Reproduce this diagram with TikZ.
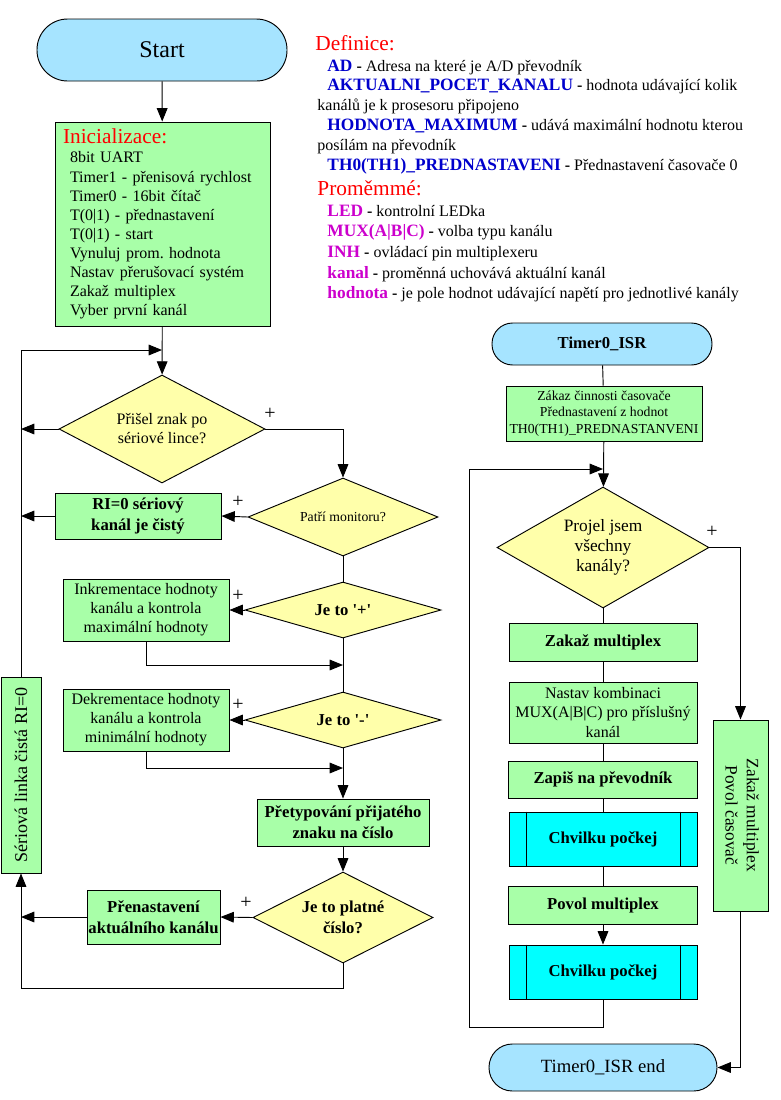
\documentclass[tikz,border=0pt]{standalone}
\usepackage{fontspec}
\setmainfont{Liberation Serif}
\newfontfamily\quotefont{Liberation Serif}
\usepackage{tikz, xcolor}
\usetikzlibrary{shapes.geometric,arrows.meta}

\definecolor{termblue}{RGB}{166,228,255}
\definecolor{boxgreen}{RGB}{168,255,168}
\definecolor{diayellow}{RGB}{255,255,170}
\definecolor{waitcyan}{RGB}{0,255,255}
\definecolor{defblue}{RGB}{0,0,204}
\definecolor{varmag}{RGB}{204,0,204}

\newcommand{\fntreg}{\fontsize{12}{14.3}\selectfont}
\newcommand{\fntbig}{\fontsize{12.5}{15.5}\selectfont\bfseries}
\newcommand{\fntsmall}{\fontsize{10.3}{12.5}\selectfont}
\newcommand{\keyblue}[1]{{\fontsize{13}{15}\selectfont\bfseries\color{defblue}#1} \textbf{-}}
\newcommand{\keymag}[1]{{\fontsize{13}{15}\selectfont\bfseries\color{varmag}#1} \textbf{-}}

\begin{document}
\frenchspacing
\begin{tikzpicture}[x=0.75pt, y=-0.75pt, line width=0.7pt, >={Triangle[length=10pt,width=8pt]}]
\tikzstyle{boxt}=[rectangle, draw, fill=termblue, align=center]
\tikzstyle{boxg}=[rectangle, draw, fill=boxgreen, align=center, inner sep=1pt]
\tikzstyle{boxd}=[diamond, draw, fill=diayellow, align=center, inner sep=0pt]
\tikzstyle{boxc}=[rectangle, draw, fill=waitcyan, align=center]
\tikzstyle{deftext}=[anchor=base west, inner sep=0pt, font=\fontsize{12}{14}\selectfont]
\tikzstyle{signp}=[inner sep=0pt, font=\fontsize{15}{17}\selectfont]
\tikzstyle{drawstyle}=[->]

\useasboundingbox (0,0) rectangle (781,1100);

\node[boxt, minimum width=187.5pt, minimum height=46.5pt, rounded corners=23pt, font=\fontsize{18}{20}\selectfont] (L0) at (162,50) {Start};
\node[boxg, minimum width=161.25pt, minimum height=153pt, align=left, text width=138.75pt, inner xsep=11.25pt, font=\fntreg] (L1) at (162.5,224) {\hspace*{-5.25pt}{\fontsize{16}{18}\selectfont\color{red}Inicializace:}\\8bit UART\\Timer1 - přenisová rychlost\\Timer0 - 16bit čítač\\T(0|1) - přednastavení\\T(0|1) - start\\Vynuluj prom. hodnota\\Nastav přerušovací systém\\Zakaž multiplex\\Vyber první kanál};
\draw[drawstyle] (L0) -- (L1);

\node[boxd, minimum width=154.5pt, minimum height=81pt, aspect=1.9, font=\fntreg] (L2) at (162,429) {Přišel znak po\\sériové lince?};
\draw[drawstyle] (L1) -- (L2);
\node[boxd, minimum width=142.5pt, minimum height=58.5pt, aspect=2.4, font=\fntsmall] (L3) at (343,517) {Patří monitoru?};
\draw[drawstyle] (L2.east) -| (L3.north);
\node[signp] (P1) at (270,414) {+};
\node[boxg, minimum width=124.5pt, minimum height=34.5pt, font=\fntbig] (L4) at (138,516) {RI=0 sériový\\kanál je čistý};
\draw[drawstyle] (L3.west) -- (L4.east);
\node[signp] (P2) at (238,502) {+};
\node[boxd, minimum width=147pt, minimum height=42pt, aspect=3.5, font=\fntbig] (L5) at (343,610) {Je to {\quotefont'}+{\quotefont'}};
\draw (L3) -- (L5);
\node[boxg, minimum width=124.5pt, minimum height=46.5pt, font=\fntreg] (L6) at (146,610) {Inkrementace hodnoty\\kanálu a kontrola\\maximální hodnoty};
\draw[drawstyle] (L5.west) -- (L6.east);
\node[signp] (P3) at (238,596) {+};
\coordinate (J1) at (343,665);
\draw[drawstyle] (L6.south) |- (J1);
\node[boxd, minimum width=147pt, minimum height=42pt, aspect=3.5, font=\fntbig] (L7) at (343,720) {Je to {\quotefont'}-{\quotefont'}};
\draw (L5) -- (L7);
\node[boxg, minimum width=124.5pt, minimum height=46.5pt, font=\fntreg] (L8) at (146,720) {Dekrementace hodnoty\\kanálu a kontrola\\minimální hodnoty};
\draw[drawstyle] (L7.west) -- (L8.east);
\node[signp] (P4) at (238,705) {+};
\coordinate (J2) at (343,768);
\draw[drawstyle] (L8.south) |- (J2);
\node[boxg, minimum width=129pt, minimum height=35.25pt, font=\fntbig] (L9) at (343,822.5) {Přetypování přijatého\\znaku na číslo};
\draw[drawstyle] (L7) -- (L9);
\node[boxd, minimum width=135pt, minimum height=68.25pt, aspect=2, font=\fntbig] (L10) at (343,917.5) {Je to platné\\číslo?};
\draw[drawstyle] (L9) -- (L10);
\node[boxg, minimum width=99.75pt, minimum height=40.5pt, font=\fntbig] (L11) at (153.5,917) {Přenastavení\\aktuálního kanálu};
\draw[drawstyle] (L10.west) -- (L11.east);
\node[signp] (P5) at (246,903) {+};
\node[boxg, minimum width=30pt, minimum height=147pt, font=\fontsize{13.5}{16}\selectfont] (L12) at (21,775) {\rotatebox{90}{Sériová linka čistá RI=0}};
\draw[drawstyle] (L2.west) -- (L2.west -| L12);
\draw[drawstyle] (L4.west) -- (L4.west -| L12);
\draw[drawstyle] (L11.west) -- (L11.west -| L12);
\coordinate (J3) at (343,988);
\draw[drawstyle] (L10.south) -- (J3) -| (L12.south);
\coordinate (J4) at (162,350);
\draw[drawstyle] (L12.north) |- (J4);

\node[font=\fontsize{16}{18}\selectfont, text=red, anchor=base west, inner sep=0pt] (D0) at (315,50) {Definice:};
\node[deftext] (D1) at (327,71) {\keyblue{AD} Adresa na které je A/D převodník};
\node[deftext] (D2) at (327,90) {\keyblue{AKTUALNI\_POCET\_KANALU} hodnota udávající kolik};
\node[deftext] (D3) at (317,110) {kanálů je k prosesoru připojeno};
\node[deftext] (D4) at (327,130) {\keyblue{HODNOTA\_MAXIMUM} udává maximální hodnotu kterou};
\node[deftext] (D5) at (317,150) {posílám na převodník};
\node[deftext] (D6) at (327,170) {\keyblue{TH0(TH1)\_PREDNASTAVENI} Přednastavení časovače 0};
\node[font=\fontsize{16}{18}\selectfont, text=red, anchor=base west, inner sep=0pt] (V0) at (317,195) {Proměmmé:};
\node[deftext] (V1) at (327,216) {\keymag{LED} kontrolní LEDka};
\node[deftext] (V2) at (327,236) {\keymag{MUX(A|B|C)} volba typu kanálu};
\node[deftext] (V3) at (327,257) {\keymag{INH} ovládací pin multiplexeru};
\node[deftext] (V4) at (327,278) {\keymag{kanal} proměnná uchovává aktuální kanál};
\node[deftext] (V5) at (327,298) {\keymag{hodnota} je pole hodnot udávající napětí pro jednotlivé kanály};

\node[boxt, minimum width=165pt, minimum height=31.5pt, rounded corners=15.5pt, font=\fntbig] (R0) at (602,344) {Timer0\_ISR};
\node[boxg, minimum width=147pt, minimum height=41.25pt, font=\fntsmall] (R1) at (604,413.5) {Zákaz činnosti časovače\\Přednastavení z hodnot\\TH0(TH1)\_PREDNASTANVENI};
\draw (R0) -- (R1);
\node[boxd, minimum width=159pt, minimum height=90.75pt, aspect=1.75, font=\fontsize{13}{15}\selectfont] (R2) at (603,547.5) {Projel jsem\\všechny\\kanály?};
\draw[drawstyle] (R1) -- (R2);
\node[signp] (P6) at (712,532) {+};
\node[boxg, minimum width=141pt, minimum height=28.5pt, font=\fntbig] (R3) at (603,642) {Zakaž multiplex};
\draw (R2) -- (R3);
\node[boxg, minimum width=141pt, minimum height=45.75pt, font=\fntreg] (R4) at (603,712.5) {Nastav kombinaci\\MUX(A|B|C) pro příslušný\\kanál};
\draw (R3) -- (R4);
\node[boxg, minimum width=141.75pt, minimum height=27.75pt, font=\fntbig] (R5) at (603,779.5) {Zapiš na převodník};
\draw (R4) -- (R5);
\node[boxc, minimum width=141pt, minimum height=40.5pt, font=\fntbig] (R6) at (603,839) {Chvilku počkej};
\draw ([xshift=13.5pt]R6.north west) -- ([xshift=13.5pt]R6.south west);
\draw ([xshift=-13pt]R6.north east) -- ([xshift=-13pt]R6.south east);
\draw (R5) -- (R6);
\node[boxg, minimum width=141.75pt, minimum height=28.5pt, font=\fntbig] (R7) at (603,905) {Povol multiplex};
\draw (R6) -- (R7);
\node[boxc, minimum width=141pt, minimum height=40.5pt, font=\fntbig] (R8) at (603,972) {Chvilku počkej};
\draw ([xshift=13.5pt]R8.north west) -- ([xshift=13.5pt]R8.south west);
\draw ([xshift=-13pt]R8.north east) -- ([xshift=-13pt]R8.south east);
\draw[drawstyle] (R7) -- (R8);
\coordinate (J5) at (469,1027);
\coordinate (J6) at (603,469);
\draw[drawstyle] (R8.south) |- (J5) |- (J6);
\node[boxg, minimum width=41.25pt, minimum height=143.25pt, font=\fontsize{13}{16}\selectfont] (R9) at (740.5,815.5) {\rotatebox{-90}{\begin{tabular}{@{}c@{}}Zakaž multiplex\\Povol časovač\end{tabular}}};
\draw[drawstyle] (R2.east) -| (R9.north);
\node[boxt, minimum width=171pt, minimum height=35.25pt, rounded corners=17.5pt, font=\fontsize{14}{16}\selectfont] (R10) at (603,1067.5) {Timer0\_ISR end};
\draw[drawstyle] (R9.south) |- (R10.east);
\end{tikzpicture}
\end{document}
